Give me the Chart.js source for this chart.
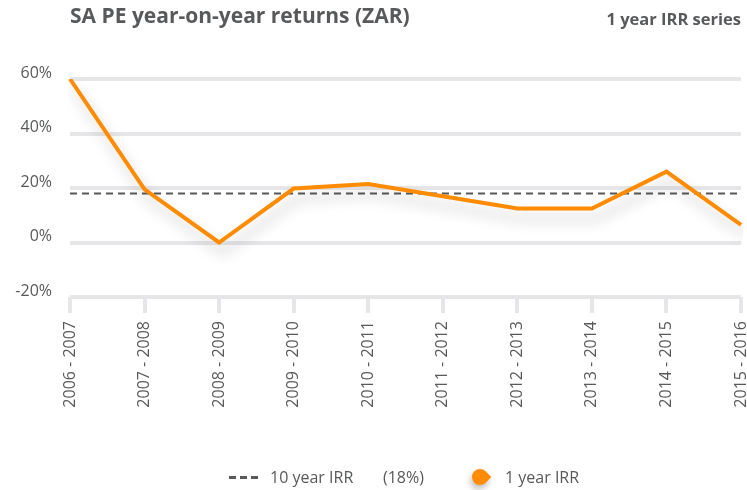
<!DOCTYPE html>
<html>
<head>
<meta charset="utf-8">
<script src="https://cdn.jsdelivr.net/npm/chart.js@4/dist/chart.umd.min.js"></script>
<style>
    body { margin: 0; background: #fff; }
    #wrap { position: relative; width: 747px; height: 490px; font-family: 'Open Sans', sans-serif; color: #58595b; }
    .lg { position: absolute; top: 466px; font-size: 16px; line-height: 22px; white-space: nowrap; }
    .dash { position: absolute; top: 476px; left: 229px; width: 30px; height: 3px;
        background: repeating-linear-gradient(90deg, #58595b 0 7px, transparent 7px 11px); }
    .pin { position: absolute; top: 469px; left: 472px; width: 16px; height: 16px; background: #ff8c00;
        border-radius: 50% 0 50% 50%; transform: rotate(45deg); box-shadow: 2px 4px 6px rgba(0,0,0,0.25); }
</style>
</head>
<body>
<div id="wrap">
    <canvas id="chart" width="747" height="490"></canvas>
    <div class="dash"></div>
    <div class="lg" style="left:270px">10 year IRR</div>
    <div class="lg" style="left:383px">(18%)</div>
    <div class="pin"></div>
    <div class="lg" style="left:505px">1 year IRR</div>
</div>
<script>
    var categories = ['2006 - 2007', '2007 - 2008', '2008 - 2009', '2009 - 2010', '2010 - 2011',
        '2011 - 2012', '2012 - 2013', '2013 - 2014', '2014 - 2015', '2015 - 2016'];
    var oneYearIrr = [60, 19.5, 0, 19.8, 21.5, 17, 12.5, 12.5, 26, 6.5];
    var tenYearIrr = [18, 18, 18, 18, 18, 18, 18, 18, 18, 18];
    var yMin = -20, yMax = 60, yStep = 20;

    var title = 'SA PE year-on-year returns (ZAR)';
    var subtitle = '1 year IRR series';
    var textColor = '#58595b';
    var gridColor = '#e6e6e8';

    // headings drawn straight on the canvas
    var headings = {
        id: 'headings',
        afterDraw: function(chart) {
            var ctx = chart.ctx;
            ctx.save();
            ctx.fillStyle = textColor;
            ctx.textBaseline = 'middle';
            ctx.font = 'bold 21px "Open Sans"';
            ctx.textAlign = 'left';
            ctx.fillText(title, 70, 17);
            ctx.font = 'bold 16.5px "Open Sans"';
            ctx.textAlign = 'right';
            ctx.fillText(subtitle, 741, 20);
            ctx.restore();
        }
    };

    // soft drop shadow under the orange line
    var lineShadow = {
        id: 'lineShadow',
        beforeDatasetDraw: function(chart, args) {
            if (args.index !== 1) return;
            var ctx = chart.ctx;
            ctx.save();
            ctx.shadowColor = 'rgba(0,0,0,0.22)';
            ctx.shadowBlur = 14;
            ctx.shadowOffsetX = 4;
            ctx.shadowOffsetY = 10;
        },
        afterDatasetDraw: function(chart, args) {
            if (args.index !== 1) return;
            chart.ctx.restore();
        }
    };

    var ctx = document.getElementById('chart').getContext('2d');
    new Chart(ctx, {
        type: 'line',
        data: {
            labels: categories,
            datasets: [{
                label: '10 year IRR',
                data: tenYearIrr,
                borderColor: '#58595b',
                borderWidth: 2,
                borderDash: [7, 5],
                pointRadius: 0,
                fill: false,
                order: 1
            }, {
                label: '1 year IRR',
                data: oneYearIrr,
                borderColor: '#ff8c00',
                borderWidth: 4,
                pointRadius: 0,
                tension: 0,
                fill: false,
                order: 0
            }]
        },
        options: {
            responsive: false,
            animation: false,
            layout: { padding: { top: 79, right: 6, left: 0, bottom: 0 } },
            plugins: { legend: { display: false }, tooltip: { enabled: false } },
            scales: {
                x: {
                    offset: false,
                    grid: { drawOnChartArea: false, drawTicks: true, tickLength: 16, lineWidth: 4, color: gridColor },
                    border: { display: false },
                    ticks: {
                        minRotation: 90, maxRotation: 90, autoSkip: false, padding: 8,
                        color: textColor, font: { family: 'Open Sans', size: 16 }
                    },
                    afterFit: function(s) { s.height = 193; s.paddingLeft = 0; s.paddingRight = 0; }
                },
                y: {
                    min: yMin, max: yMax,
                    grid: { color: gridColor, lineWidth: 4, drawTicks: false },
                    border: { display: false },
                    ticks: {
                        stepSize: yStep, padding: 18, labelOffset: -6,
                        color: textColor, font: { family: 'Open Sans', size: 16 },
                        callback: function(v) { return v + '%'; }
                    },
                    afterFit: function(s) { s.width = 70; s.paddingTop = 0; s.paddingBottom = 0; }
                }
            }
        },
        plugins: [headings, lineShadow]
    });
</script>
</body>
</html>
